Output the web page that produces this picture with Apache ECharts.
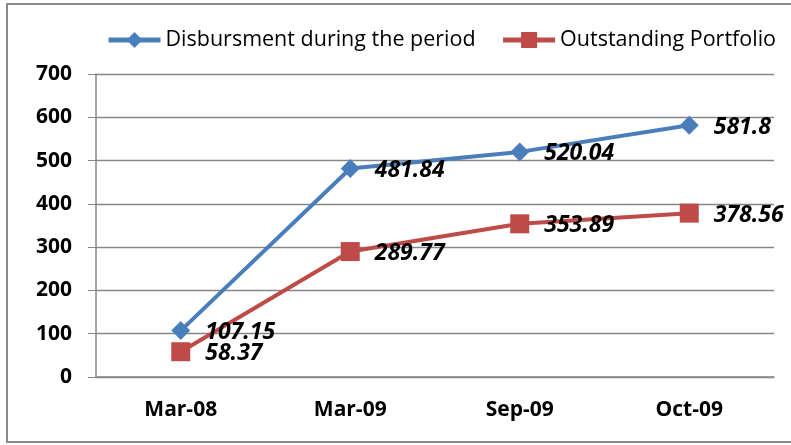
<!DOCTYPE html>
<html>
<head>
<meta charset="utf-8">
<script src="https://cdn.jsdelivr.net/npm/echarts@6/dist/echarts.min.js"></script>
<style>
  html, body { margin: 0; padding: 0; background: #fff; }
  #chart { width: 791px; height: 445px; }
</style>
</head>
<body>
<div id="chart"></div>
<script>
const categories = ["Mar-08", "Mar-09", "Sep-09", "Oct-09"];
const disbursment = [107.15, 481.84, 520.04, 581.8];
const outstanding = [58.37, 289.77, 353.89, 378.56];
const seriesNames = ["Disbursment during the period", "Outstanding Portfolio"];

const chart = echarts.init(document.getElementById("chart"));

const labelStyle = {
  show: true,
  position: "right",
  distance: 15,
  offset: [0, 2],
  fontFamily: "Open Sans",
  fontSize: 23,
  fontWeight: "bold",
  fontStyle: "italic",
  color: "#000"
};

chart.setOption({
  animation: false,
  graphic: [
    {
      type: "rect",
      shape: { x: 7, y: 4, width: 800, height: 438 },
      style: { fill: "none", stroke: "#8a8a8a", lineWidth: 2 },
      silent: true
    }
  ],
  legend: {
    left: 106,
    top: 29,
    padding: 0,
    itemWidth: 52,
    itemHeight: 20,
    itemGap: 25,
    lineStyle: { width: 5 },
    textStyle: {
      fontFamily: "Open Sans",
      fontSize: 21.5,
      color: "#000"
    },
    data: seriesNames
  },
  grid: {
    left: 96,
    right: 17,
    top: 74,
    bottom: 68
  },
  xAxis: {
    type: "category",
    data: categories,
    axisLine: { lineStyle: { color: "#868686", width: 1.5 } },
    axisTick: { length: 5, lineStyle: { color: "#868686" } },
    axisLabel: {
      margin: 23,
      fontFamily: "Open Sans",
      fontSize: 21,
      fontWeight: "bold",
      color: "#000"
    }
  },
  yAxis: {
    type: "value",
    min: 0,
    max: 700,
    interval: 100,
    axisLine: { show: true, lineStyle: { color: "#868686", width: 1.5 } },
    axisTick: { show: true, length: 8, lineStyle: { color: "#868686" } },
    splitLine: { lineStyle: { color: "#868686", width: 1.3 } },
    axisLabel: {
      margin: 24,
      fontFamily: "Open Sans",
      fontSize: 21,
      fontWeight: "bold",
      color: "#000"
    }
  },
  series: [
    {
      name: seriesNames[0],
      type: "line",
      data: disbursment,
      symbol: "diamond",
      symbolSize: 19,
      color: "#4a7ebb",
      lineStyle: { width: 4, color: "#4a7ebb" },
      itemStyle: { color: "#4a7ebb" },
      label: labelStyle,
      z: 3
    },
    {
      name: seriesNames[1],
      type: "line",
      data: outstanding,
      symbol: "rect",
      symbolSize: 19,
      color: "#be4b48",
      lineStyle: { width: 4, color: "#be4b48" },
      itemStyle: { color: "#be4b48" },
      label: labelStyle,
      z: 2
    }
  ]
});
</script>
</body>
</html>
